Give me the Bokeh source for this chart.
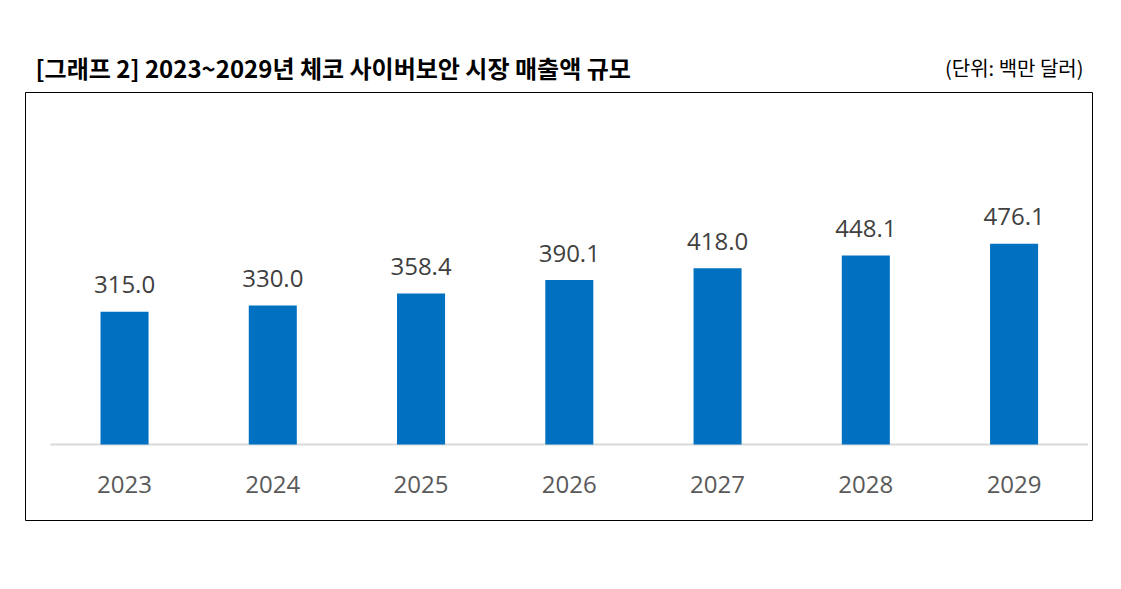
from bokeh.plotting import figure
from bokeh.models import ColumnDataSource, Range1d
from bokeh.layouts import column
from bokeh.core.properties import value
from bokeh.embed import file_html
from bokeh.resources import INLINE

years = ["2023", "2024", "2025", "2026", "2027", "2028", "2029"]
sales = [315.0, 330.0, 358.4, 390.1, 418.0, 448.1, 476.1]
title_text = "[그래프 2] 2023~2029년 체코 사이버보안 시장 매출액 규모"
unit_text = "(단위: 백만 달러)"

W = 1121
BL, BR = 25, 29

# ---- header (title + unit) ----
head = figure(width=W, height=84, output_backend="svg", toolbar_location=None,
              x_axis_type=None, y_axis_type=None,
              x_range=Range1d(BL, W - BR), y_range=Range1d(84, 0),
              min_border_left=BL, min_border_right=BR, min_border_top=0, min_border_bottom=0)
head.outline_line_color = None
head.xgrid.visible = False
head.ygrid.visible = False
head.text(x=[35], y=[67], text=[title_text], text_align="left", text_baseline="middle",
          text_font=value("Noto Sans CJK KR"), text_font_size="24px", text_font_style="bold",
          text_color="black")
head.text(x=[1083], y=[67], text=[unit_text], text_align="right", text_baseline="middle",
          text_font=value("Noto Sans CJK KR"), text_font_size="20px", text_color="black")

# ---- chart ----
idx = list(range(len(years)))
src = ColumnDataSource(dict(
    x=idx, year=years, v=sales, lbl=[f"{s:.1f}" for s in sales],
    ylab=[-95.0] * len(years),
))

p = figure(width=W, height=505, output_backend="svg", toolbar_location=None,
           x_axis_type=None, y_axis_type=None,
           x_range=Range1d(-0.668, 6.529), y_range=Range1d(-180.3, 835.1),
           min_border_left=BL, min_border_right=BR, min_border_top=8, min_border_bottom=69)
p.outline_line_color = "black"
p.outline_line_width = 1
p.xgrid.visible = False
p.ygrid.visible = False

p.segment(x0=[-0.5], y0=[0], x1=[len(years) - 0.5], y1=[0], line_color="#d9d9d9", line_width=2)
p.vbar(x="x", top="v", bottom=0, width=0.324, source=src, fill_color="#0070C0", line_color=None)
p.text(x="x", y="v", text="lbl", source=src, text_align="center", text_baseline="middle",
       y_offset=-27, text_font=value("Open Sans"), text_font_size="24px", text_color="#404040")
p.text(x="x", y="ylab", text="year", source=src, text_align="center", text_baseline="middle",
       text_font=value("Open Sans"), text_font_size="24px", text_color="#595959")

layout = column(head, p, spacing=0)
open("out.html", "w").write(file_html(layout, INLINE))
